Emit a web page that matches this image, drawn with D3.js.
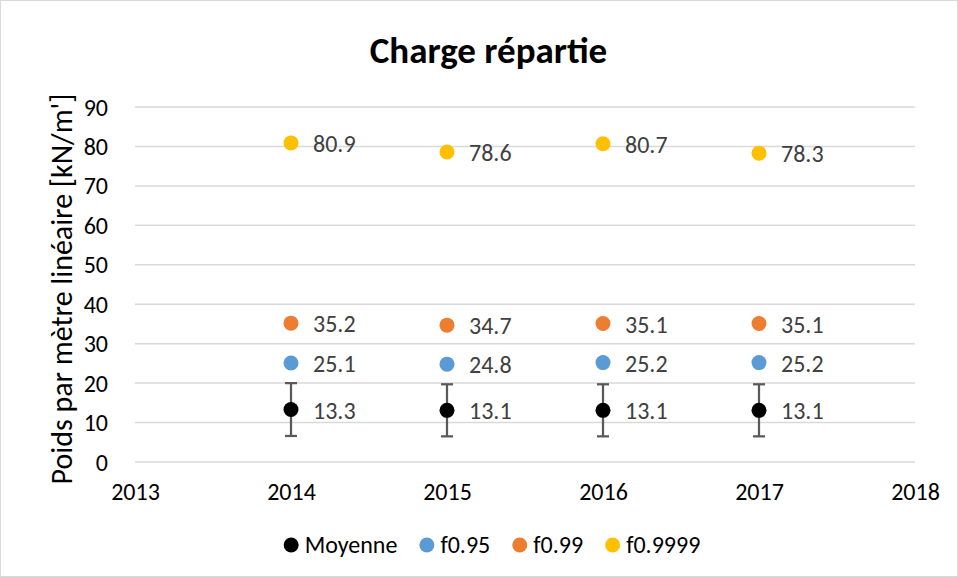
<!DOCTYPE html>
<html>
<head>
<meta charset="utf-8">
<script src="https://cdn.jsdelivr.net/npm/d3@7/dist/d3.min.js"></script>
<style>
  html, body { margin: 0; padding: 0; background: #fff; }
  svg { display: block; font-family: Carlito, Calibri, "Open Sans", sans-serif; }
</style>
</head>
<body>
<svg id="chart" width="958" height="577"></svg>
<script>
// Years on the x axis
const years = [2014, 2015, 2016, 2017];
// Series values (kN/m')
const moyenne = [13.3, 13.1, 13.1, 13.1];
const moyenneErr = [6.7, 6.6, 6.6, 6.6];
const f095 = [25.1, 24.8, 25.2, 25.2];
const f099 = [35.2, 34.7, 35.1, 35.1];
const f09999 = [80.9, 78.6, 80.7, 78.3];
// Axis ticks
const xTicks = [2013, 2014, 2015, 2016, 2017, 2018];
const yTicks = [0, 10, 20, 30, 40, 50, 60, 70, 80, 90];

const series = [
  { name: "Moyenne", values: moyenne, color: "#000000" },
  { name: "f0.95", values: f095, color: "#5b9bd5" },
  { name: "f0.99", values: f099, color: "#ed7d31" },
  { name: "f0.9999", values: f09999, color: "#ffc000" }
];

const FONT = "Carlito, Calibri, 'Open Sans', sans-serif";
const svg = d3.select("#chart");
const W = 958, H = 577;

svg.append("rect")
  .attr("x", 0.5).attr("y", 0.5)
  .attr("width", W - 1).attr("height", H - 1)
  .attr("fill", "#fff").attr("stroke", "#d9d9d9");

const x = d3.scaleLinear().domain([2013, 2018]).range([135, 915]);
const y = d3.scaleLinear().domain([0, 90]).range([462, 107]);

// Title
svg.append("text")
  .attr("x", 488.5).attr("y", 63)
  .attr("text-anchor", "middle")
  .attr("font-size", 37).attr("font-weight", "bold")
  .attr("fill", "#000")
  .text("Charge répartie");

// Horizontal gridlines
svg.append("g")
  .selectAll("line")
  .data(yTicks)
  .join("line")
  .attr("x1", x(2013)).attr("x2", x(2018))
  .attr("y1", d => y(d)).attr("y2", d => y(d))
  .attr("stroke", "#d9d9d9").attr("stroke-width", 1.5);

// Y axis tick labels
const yAxis = d3.axisLeft(y).tickValues(yTicks).tickSize(0).tickPadding(0);
svg.append("g")
  .attr("transform", `translate(108,0)`)
  .call(yAxis)
  .call(g => g.select(".domain").remove())
  .selectAll("text")
  .attr("dy", null).attr("y", 8)
  .attr("font-size", 24).attr("fill", "#000")
  .attr("font-family", FONT);

// X axis tick labels
const xAxis = d3.axisBottom(x).tickValues(xTicks).tickFormat(d3.format("d")).tickSize(0).tickPadding(0);
svg.append("g")
  .attr("transform", `translate(0,500)`)
  .call(xAxis)
  .call(g => g.select(".domain").remove())
  .selectAll("text")
  .attr("dy", null).attr("y", 0)
  .attr("font-size", 24).attr("fill", "#000")
  .attr("font-family", FONT);

// Y axis title
svg.append("text")
  .attr("transform", `translate(72,${(98 + 480) / 2}) rotate(-90)`)
  .attr("text-anchor", "middle")
  .attr("font-size", 30).attr("fill", "#000")
  .text("Poids par mètre linéaire [kN/m']");

// Error bars on the mean
const eb = svg.append("g").attr("stroke", "#595959").attr("stroke-width", 2.25);
years.forEach((yr, i) => {
  const cx = x(yr);
  const top = y(moyenne[i] + moyenneErr[i]);
  const bot = y(moyenne[i] - moyenneErr[i]);
  eb.append("line").attr("x1", cx).attr("x2", cx).attr("y1", top).attr("y2", bot);
  eb.append("line").attr("x1", cx - 6).attr("x2", cx + 6).attr("y1", top).attr("y2", top);
  eb.append("line").attr("x1", cx - 6).attr("x2", cx + 6).attr("y1", bot).attr("y2", bot);
});

// Points and value labels
series.forEach(s => {
  const g = svg.append("g");
  g.selectAll("circle")
    .data(s.values)
    .join("circle")
    .attr("cx", (d, i) => x(years[i]))
    .attr("cy", d => y(d))
    .attr("r", 7.5)
    .attr("fill", s.color);
  g.selectAll("text")
    .data(s.values)
    .join("text")
    .attr("x", (d, i) => x(years[i]) + 22)
    .attr("y", d => y(d) + 9)
    .attr("font-size", 24)
    .attr("fill", "#404040")
    .text(d => d.toFixed(1));
});

// Legend: entries laid out left to right by measured text width
const leg = svg.append("g");
const R = 7.5, textOff = 13.5, gap = 22;
const entries = series.map(s => {
  const g = leg.append("g");
  g.append("circle").attr("cx", 0).attr("cy", 0).attr("r", R).attr("fill", s.color);
  const t = g.append("text").attr("x", textOff).attr("y", 8).attr("font-size", 24).attr("fill", "#000").text(s.name);
  return { g, w: t.node().getComputedTextLength() };
});
const total = d3.sum(entries, e => R + textOff + e.w) + gap * (entries.length - 1) + R * 0;
let cursor = 492 - total / 2 + R;
entries.forEach(e => {
  e.g.attr("transform", `translate(${cursor},545)`);
  cursor += textOff + e.w + gap + R;
});
</script>
</body>
</html>
